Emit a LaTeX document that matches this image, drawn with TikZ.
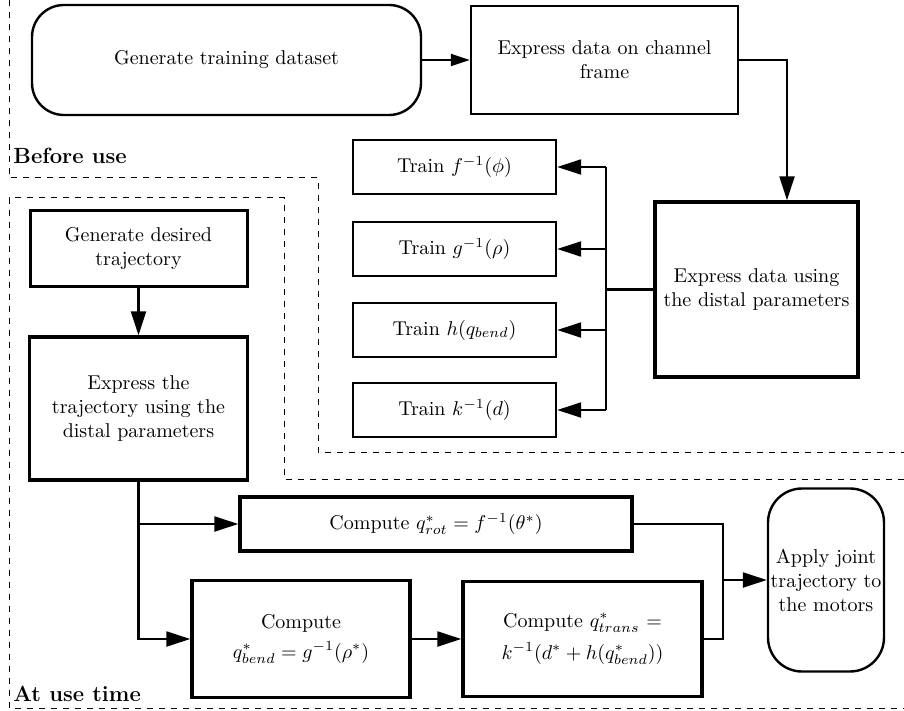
\documentclass[tikz,border=0pt]{standalone}
\usepackage{tikz}
\usetikzlibrary{arrows.meta}
\tikzset{
  box/.style={
    rectangle, draw=black, line width=1.2pt, fill=white, align=center,
    font=\fontsize{10}{12}\selectfont, inner sep=2pt},
  heavybox/.style={box, line width=1.7pt},
  terminal/.style={box, rounded corners=#1},
  wire/.style={line width=1.1pt},
  arr/.style={wire, -{Triangle[length=12pt,width=7.5pt]}},
  region/.style={line width=0.5pt, dash pattern=on 3pt off 3pt},
  tag/.style={font=\bfseries\fontsize{11}{13}\selectfont, inner sep=0pt},
}

\begin{document}
\begin{tikzpicture}[x=0.5pt, y=-0.5pt]
\useasboundingbox (0,0) rectangle (904,711);

%% regions
\draw[region] (9,0) -- (9,178) -- (318,178) -- (318,452) -- (904,452);
\draw[region] (904,479) -- (284,479) -- (284,198) -- (9,198) -- (9,708) -- (904,708);
\node[tag, anchor=west] (before) at (13,156) {Before use};
\node[tag, anchor=west] (usetime) at (13,694) {At use time};

%% == BEFORE USE =============================================================
\node[terminal=16pt, minimum width=194.5pt, minimum height=55pt]
  (gentrain) at (226.5,60) {Generate training dataset};
\node[box, minimum width=133.5pt, minimum height=54pt]
  (chanframe) at (604.5,60) {Express data on channel\\ frame};
\node[heavybox, minimum width=101.5pt, minimum height=87.5pt]
  (distal) at (756.5,289.5) {Express data using\\ the distal parameters};

\node[box, minimum width=101.5pt, minimum height=27pt] (trainf) at (454.5,167) {Train $f^{-1}(\phi)$};
\node[box, minimum width=101.5pt, minimum height=27pt] (traing) at (454.5,249) {Train $g^{-1}(\rho)$};
\node[box, minimum width=101.5pt, minimum height=27pt] (trainh) at (454.5,330) {Train $h(q_{bend})$};
\node[box, minimum width=101.5pt, minimum height=27pt] (traink) at (454.5,410) {Train $k^{-1}(d)$};

\coordinate (drop) at (787,0);
\coordinate (bus) at (606,0);

\draw[wire, -{Triangle[length=9.5pt,width=6pt]}] (gentrain) -- (chanframe);
\draw[arr] (chanframe.east) -| (drop |- distal.north);
\draw[wire] (distal.west) -- (bus |- distal.west);
\draw[wire] (bus |- trainf.east) -- (bus |- traink.east);
\foreach \n in {trainf,traing,trainh,traink}
  \draw[arr] (bus |- \n.east) -- (\n.east);

%% == AT USE TIME ============================================================
\node[heavybox, line width=1.5pt, minimum width=108.5pt, minimum height=37.5pt]
  (gendes) at (138.5,248.5) {Generate desired\\ trajectory};
\node[heavybox, minimum width=109pt, minimum height=71.5pt]
  (exptraj) at (138.5,408.5) {Express the\\ trajectory using the\\ distal parameters};

\node[heavybox, minimum width=196pt, minimum height=27pt]
  (crot) at (436,524) {Compute $q^*_{rot} = f^{-1}(\theta^*)$};
\node[heavybox, minimum width=109pt, minimum height=58.5pt]
  (cbend) at (301,639) {Compute\\[3pt] $q^*_{bend} = g^{-1}(\rho^*)$};
\node[heavybox, minimum width=119.5pt, minimum height=57.5pt]
  (ctrans) at (582.5,639) {Compute $q^*_{trans}$ =\\[4pt] $k^{-1}(d^* + h(q^*_{bend}))$};
\node[terminal=17pt, minimum width=58pt, minimum height=91.5pt, inner sep=0pt]
  (apply) at (826,580) {Apply joint\\ trajectory to\\ the motors};

\coordinate (merge) at (723,580);

\draw[arr] (gendes) -- (exptraj);
\draw[arr] (exptraj.south) |- (crot.west);
\draw[arr] (exptraj.south) |- (cbend.west);
\draw[arr] (cbend) -- (ctrans);
\draw[wire] (crot.east) -| (merge);
\draw[wire] (ctrans.east) -| (merge);
\draw[arr] (merge) -- (apply.west);
\end{tikzpicture}
\end{document}
